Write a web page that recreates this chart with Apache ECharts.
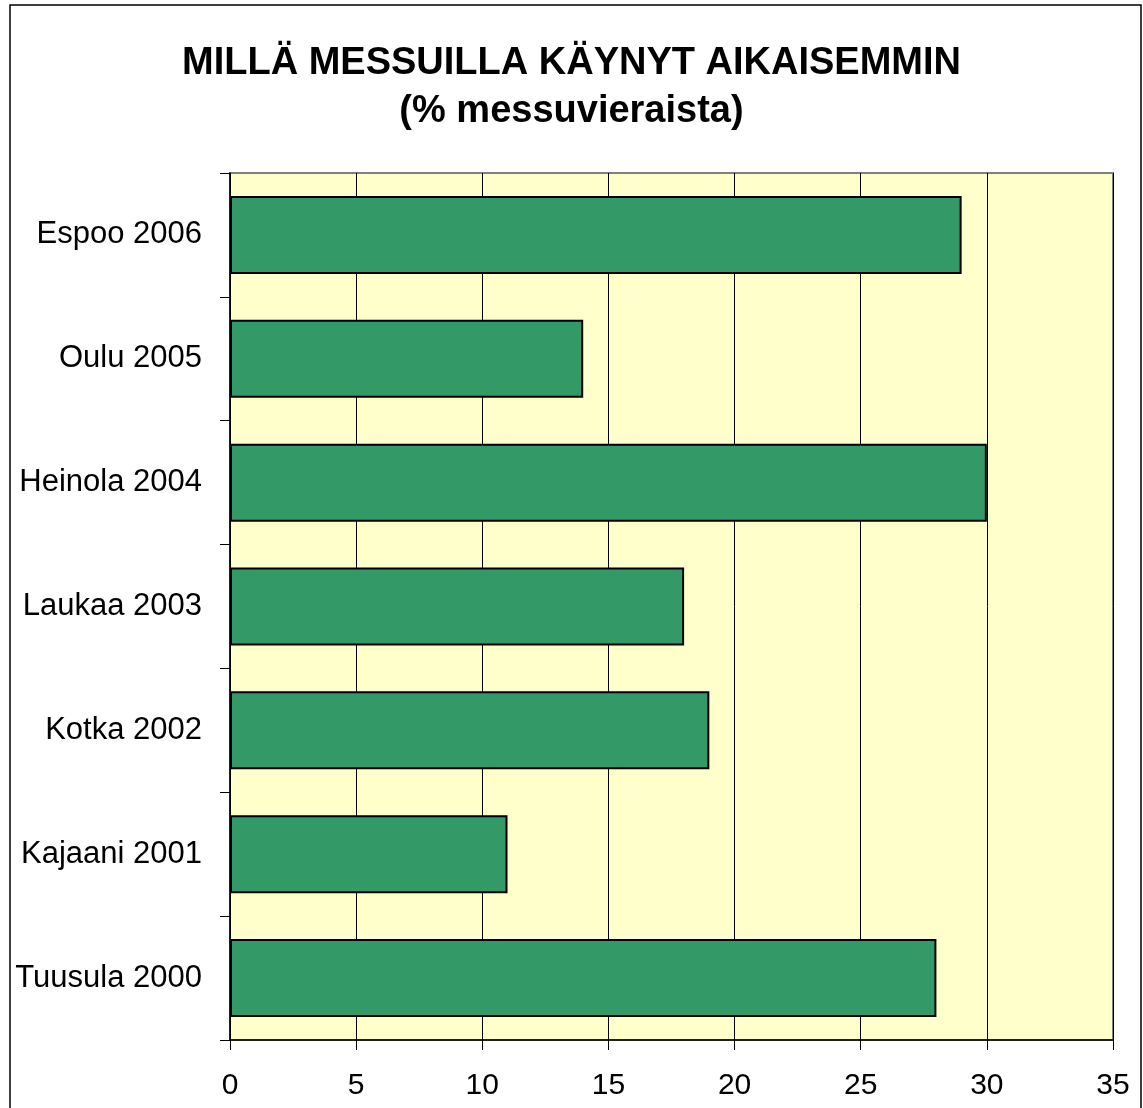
<!DOCTYPE html>
<html>
<head>
<meta charset="utf-8">
<script src="https://cdn.jsdelivr.net/npm/echarts@6/dist/echarts.min.js"></script>
<style>
html,body{margin:0;padding:0;background:#fff;}
#chart{width:1143px;height:1108px;}
</style>
</head>
<body>
<div id="chart"></div>
<script>
// kategoriat ja arvot (% messuvieraista)
var categories = ['Espoo 2006', 'Oulu 2005', 'Heinola 2004', 'Laukaa 2003', 'Kotka 2002', 'Kajaani 2001', 'Tuusula 2000'];
var values = [29, 14, 30, 18, 19, 11, 28];
var xTicks = [0, 35, 5]; // min, max, interval

var chart = echarts.init(document.getElementById('chart'));
var option = {
    backgroundColor: '#ffffff',
    animation: false,
    title: {
        text: 'MILLÄ MESSUILLA KÄYNYT AIKAISEMMIN\n(% messuvieraista)',
        left: 'center',
        top: 35,
        textStyle: {
            fontFamily: 'Liberation Sans, Arial',
            fontWeight: 'bold',
            fontSize: 38,
            lineHeight: 48,
            color: '#000'
        }
    },
    graphic: [{
        type: 'rect',
        shape: {x: 10, y: 5, width: 1131, height: 1120},
        style: {fill: 'none', stroke: '#000', lineWidth: 1.5},
        silent: true,
        z: 100
    }],
    grid: {
        left: 230,
        top: 173,
        width: 883,
        height: 867,
        show: true,
        backgroundColor: '#FFFFCC',
        borderColor: '#808080',
        borderWidth: 2
    },
    xAxis: {
        type: 'value',
        min: xTicks[0],
        max: xTicks[1],
        interval: xTicks[2],
        axisLine: {show: true, lineStyle: {color: '#000', width: 1.5}},
        axisTick: {show: true, length: 10, lineStyle: {color: '#000'}},
        axisLabel: {
            margin: 31,
            color: '#000',
            fontFamily: 'Liberation Sans, Arial',
            fontSize: 30
        },
        splitLine: {show: true, lineStyle: {color: '#000', width: 1}}
    },
    yAxis: {
        type: 'category',
        inverse: true,
        data: categories,
        axisLine: {show: true, lineStyle: {color: '#000', width: 1.5}},
        axisTick: {show: true, length: 10, lineStyle: {color: '#000'}},
        axisLabel: {
            margin: 28,
            color: '#000',
            fontFamily: 'Liberation Sans, Arial',
            fontSize: 31
        },
        splitLine: {show: false}
    },
    series: [{
        type: 'bar',
        data: values,
        barCategoryGap: '37%',
        itemStyle: {
            color: '#339966',
            borderColor: '#000',
            borderWidth: 2
        }
    }]
};
chart.setOption(option);
</script>
</body>
</html>
